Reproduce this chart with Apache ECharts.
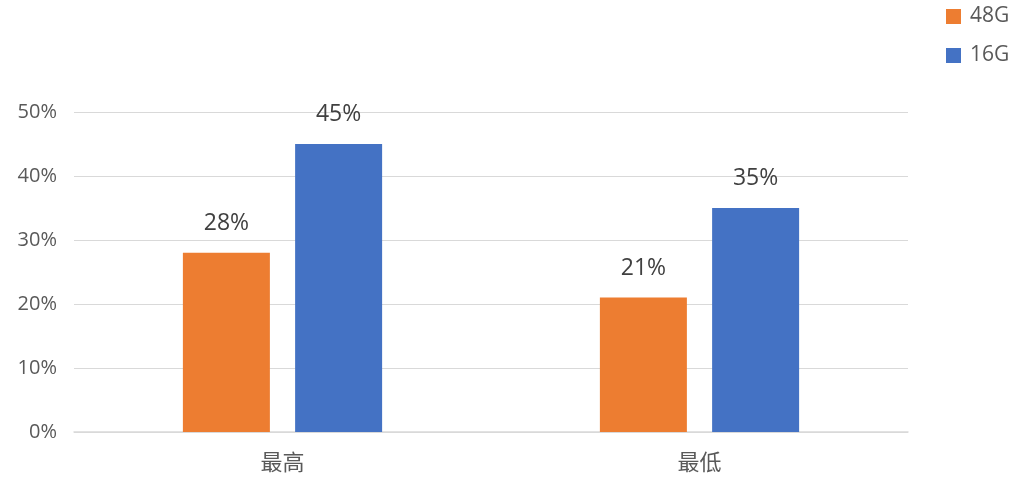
<!DOCTYPE html>
<html><head><meta charset="utf-8">
<script src="https://cdn.jsdelivr.net/npm/echarts@6/dist/echarts.min.js"></script>
<style>html,body{margin:0;padding:0;background:#fff}#c{width:1027px;height:478px}</style>
</head><body><div id="c"></div>
<script>
const categories = ['最高', '最低'];
const series48G = [28, 21];
const series16G = [45, 35];
const seriesNames = ['48G', '16G'];
const yTicks = [0, 10, 20, 30, 40, 50];

const font = '"Open Sans", "Noto Sans CJK SC", sans-serif';
const chart = echarts.init(document.getElementById('c'));
chart.setOption({
  animation: false,
  textStyle: { fontFamily: font },
  legend: {
    orient: 'vertical', left: 946, top: 6, padding: 0,
    itemWidth: 15, itemHeight: 15, itemGap: 18,
    icon: 'rect',
    textStyle: { fontSize: 21, color: '#595959', fontFamily: font, padding: [0, 0, 0, 4] },
    data: seriesNames
  },
  grid: { left: 74, right: 119, top: 112, bottom: 46, containLabel: false },
  xAxis: {
    type: 'category', data: categories,
    axisLine: { lineStyle: { color: '#d9d9d9', width: 1.5 } },
    axisTick: { show: false },
    axisLabel: { fontSize: 22, color: '#595959', margin: 21, fontFamily: font }
  },
  yAxis: {
    type: 'value', min: yTicks[0], max: yTicks[yTicks.length-1], interval: 10,
    axisLine: { show: false }, axisTick: { show: false },
    splitLine: { lineStyle: { color: '#d9d9d9', width: 1 } },
    axisLabel: { fontSize: 20, color: '#595959', margin: 17, formatter: v => v + '%', fontFamily: font }
  },
  series: [
    { name: seriesNames[0], type: 'bar', data: series48G, barWidth: 87, barGap: '29%',
      itemStyle: { color: '#ED7D31' },
      label: { show: true, position: 'top', distance: 18, fontSize: 23, color: '#404040', formatter: p => p.value + '%', fontFamily: font } },
    { name: seriesNames[1], type: 'bar', data: series16G, barWidth: 87,
      itemStyle: { color: '#4472C4' },
      label: { show: true, position: 'top', distance: 18, fontSize: 23, color: '#404040', formatter: p => p.value + '%', fontFamily: font } }
  ]
});
</script></body></html>
